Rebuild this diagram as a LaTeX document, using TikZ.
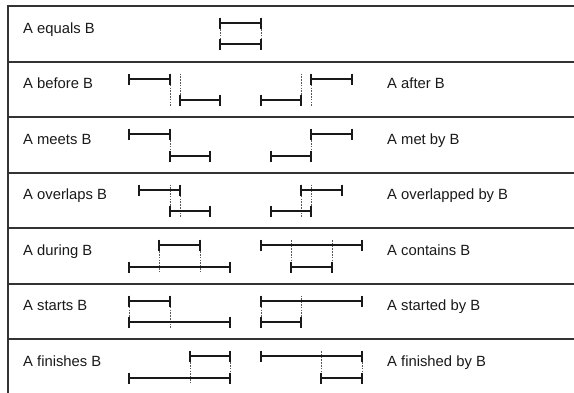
\documentclass[tikz,border=0pt]{standalone}
\usepackage{fontspec}
\setmainfont{Liberation Sans}
% interval on a 10.13pt grid: \ivl{start}{end}{y}
\newcommand\ivl[3]{\draw[bar] ({round(129+10.13*#1)},#3) -- ({round(129+10.13*#2)},#3)
  ({round(129+10.13*#1)},#3-5.5) -- ({round(129+10.13*#1)},#3+5.5)
  ({round(129+10.13*#2)},#3-5.5) -- ({round(129+10.13*#2)},#3+5.5);}
% dotted alignment guide between the two bars of a row: \guideln{k}{row centre}
\newcommand\guideln[2]{\draw[guide] ({round(129+10.13*#1)},#2-16) -- ({round(129+10.13*#1)},#2+16);}
\begin{document}
\begin{tikzpicture}[x=1pt,y=-1pt,
  frame/.style={draw=black!80,line width=1.6pt},
  bar/.style={draw=black!90,line width=1.6pt},
  guide/.style={draw=black!65,line width=0.8pt,dash pattern=on 1.6pt off 1.2pt},
  lbl/.style={anchor=base west,inner sep=0pt,text=black!90,font=\fontsize{14.8}{17}\selectfont}]
\useasboundingbox (0,0) rectangle (574,392);
\clip (0,0) rectangle (574,392);
% table frame and row separators
\draw[frame] (8,6) rectangle (600,395);
\foreach \y in {62,117,173,228,284,339} \draw[frame] (8,\y) -- (600,\y);
% labels
\node[lbl] (eq)  at (23,33)    {A equals B};
\node[lbl] (bf)  at (23,88.5)  {A before B};
\node[lbl] (af)  at (387,88.5) {A after B};
\node[lbl] (mt)  at (23,144)   {A meets B};
\node[lbl] (mb)  at (387,144)  {A met by B};
\node[lbl] (ov)  at (23,199.5) {A overlaps B};
\node[lbl] (ob)  at (387,199.5){A overlapped by B};
\node[lbl] (du)  at (23,255)   {A during B};
\node[lbl] (co)  at (387,255)  {A contains B};
\node[lbl] (st)  at (23,310.5) {A starts B};
\node[lbl] (sb)  at (387,310.5){A started by B};
\node[lbl] (fi)  at (23,366)   {A finishes B};
\node[lbl] (fb)  at (387,366)  {A finished by B};
% guides
\guideln{9}{34}\guideln{13}{34}
\guideln{4}{89.5}\guideln{5}{89.5}\guideln{17}{89.5}\guideln{18}{89.5}
\guideln{4}{145}\guideln{18}{145}
\guideln{4}{200.5}\guideln{5}{200.5}\guideln{17}{200.5}\guideln{18}{200.5}
\guideln{3}{256}\guideln{7}{256}\guideln{16}{256}\guideln{20}{256}
\guideln{0}{311.5}\guideln{4}{311.5}\guideln{13}{311.5}\guideln{17}{311.5}
\guideln{6}{367}\guideln{10}{367}\guideln{19}{367}\guideln{23}{367}
% intervals (A above, B below)
\ivl{9}{13}{23}\ivl{9}{13}{44}
\ivl{0}{4}{79}\ivl{5}{9}{100}\ivl{18}{22}{79}\ivl{13}{17}{100}
\ivl{0}{4}{134}\ivl{4}{8}{156}\ivl{18}{22}{134}\ivl{14}{18}{156}
\ivl{1}{5}{190}\ivl{4}{8}{211}\ivl{17}{21}{190}\ivl{14}{18}{211}
\ivl{3}{7}{245}\ivl{0}{10}{267}\ivl{13}{23}{245}\ivl{16}{20}{267}
\ivl{0}{4}{301}\ivl{0}{10}{322}\ivl{13}{23}{301}\ivl{13}{17}{322}
\ivl{6}{10}{356}\ivl{0}{10}{378}\ivl{13}{23}{356}\ivl{19}{23}{378}
\end{tikzpicture}
\end{document}
